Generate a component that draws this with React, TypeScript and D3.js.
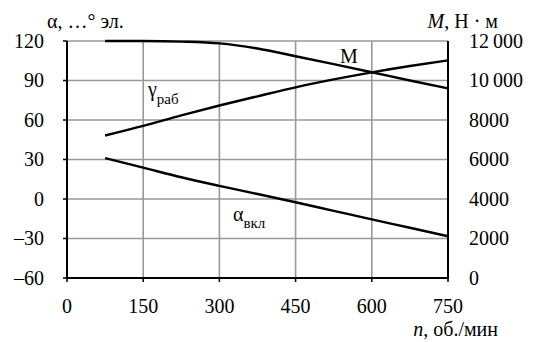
import React from 'react';
import * as d3 from 'd3';

// speed, rpm
const speeds = [75, 150, 225, 300, 375, 450, 525, 600, 675, 750];
// angles, electrical degrees
const gammaWork = [48.2, 55.5, 63.5, 71, 78, 84.8, 90.8, 96.2, 101, 105.3];
const alphaOn = [31, 23.8, 16.5, 10, 3.8, -2.5, -9, -15.5, -21.8, -28.3];
// torque, N·m
const torque = [12000, 12000, 11970, 11880, 11620, 11230, 10830, 10420, 10000, 9600];

const xTicks = [0, 150, 300, 450, 600, 750];
const yTicks = [-60, -30, 0, 30, 60, 90, 120];
const yRightTicks = [0, 2000, 4000, 6000, 8000, 10000, 12000];
const yRightLabels = ['0', '2000', '4000', '6000', '8000', '10\u2009000', '12\u2009000'];

const W = 538;
const H = 342;

const App = () => {
  const x = d3.scaleLinear().domain([0, 750]).range([67, 448]);
  const y = d3.scaleLinear().domain([-60, 120]).range([278, 41]);
  const yR = d3.scaleLinear().domain([0, 12000]).range([278, 41]);

  const line = d3.line<[number, number]>()
    .x(d => d[0])
    .y(d => d[1])
    .curve(d3.curveMonotoneX);

  const gammaPath = line(speeds.map((s, i) => [x(s), y(gammaWork[i])]));
  const alphaPath = line(speeds.map((s, i) => [x(s), y(alphaOn[i])]));
  const torquePath = line(speeds.map((s, i) => [x(s), yR(torque[i])]));

  const fmt = (v: number) => (v < 0 ? '\u2013' + Math.abs(v) : String(v));

  return (
    <div style={{ position: 'absolute', left: 0, top: 0, width: W, height: H, background: '#fff' }}>
      <style>{`svg.chart text { font-family: 'Liberation Serif', 'Times New Roman', Times, serif !important; font-size: 20px; fill: #000; } svg.chart tspan.sub { font-size: 15px; }`}</style>
      <svg className="chart" width={W} height={H}>
        {/* grid */}
        {xTicks.slice(1, -1).map(t => (
          <line key={'gx' + t} x1={x(t)} x2={x(t)} y1={y(120)} y2={y(-60)} stroke="#999" strokeWidth={1.6} />
        ))}
        {yTicks.slice(1).map(t => (
          <line key={'gy' + t} x1={x(0)} x2={x(750)} y1={y(t)} y2={y(t)} stroke="#999" strokeWidth={1.6} />
        ))}
        {/* axes */}
        <line x1={x(0)} x2={x(0)} y1={y(120)} y2={y(-60) + 1} stroke="#000" strokeWidth={2} />
        <line x1={x(750)} x2={x(750)} y1={y(120)} y2={y(-60) + 1} stroke="#000" strokeWidth={2} />
        <line x1={x(0) - 1} x2={x(750) + 1} y1={y(-60)} y2={y(-60)} stroke="#000" strokeWidth={2} />
        {yTicks.map(t => (
          <line key={'ty' + t} x1={x(0) - 4} x2={x(0)} y1={y(t)} y2={y(t)} stroke="#000" strokeWidth={1.5} />
        ))}
        {xTicks.map(t => (
          <line key={'tx' + t} x1={x(t)} x2={x(t)} y1={y(-60)} y2={y(-60) + 4} stroke="#000" strokeWidth={1.5} />
        ))}
        {/* curves */}
        <path d={torquePath ?? ''} fill="none" stroke="#000" strokeWidth={2.4} />
        <path d={gammaPath ?? ''} fill="none" stroke="#000" strokeWidth={2.4} />
        <path d={alphaPath ?? ''} fill="none" stroke="#000" strokeWidth={2.4} />
        {/* left tick labels */}
        {yTicks.map(t => (
          <text key={'ly' + t} x={x(0) - 23} y={y(t) + 6.5} textAnchor="end">{fmt(t)}</text>
        ))}
        {/* right tick labels */}
        {yRightTicks.map((t, i) => (
          <text key={'ry' + t} x={469} y={yR(t) + 6.5}>{yRightLabels[i]}</text>
        ))}
        {/* bottom tick labels */}
        {xTicks.map(t => (
          <text key={'lx' + t} x={x(t)} y={313} textAnchor="middle">{t}</text>
        ))}
        {/* axis titles */}
        <text x={47} y={28}>α, …° эл.</text>
        <text x={498} y={28} textAnchor="end"><tspan fontStyle="italic">M</tspan>, Н · м</text>
        <text x={498} y={336} textAnchor="end"><tspan fontStyle="italic">n</tspan>, об./мин</text>
        {/* curve labels */}
        <text x={340} y={63}>М</text>
        <text x={148} y={96}>γ<tspan className="sub" dy={8}>раб</tspan></text>
        <text x={233} y={221}>α<tspan className="sub" dy={7}>вкл</tspan></text>
      </svg>
    </div>
  );
};

export default App;
